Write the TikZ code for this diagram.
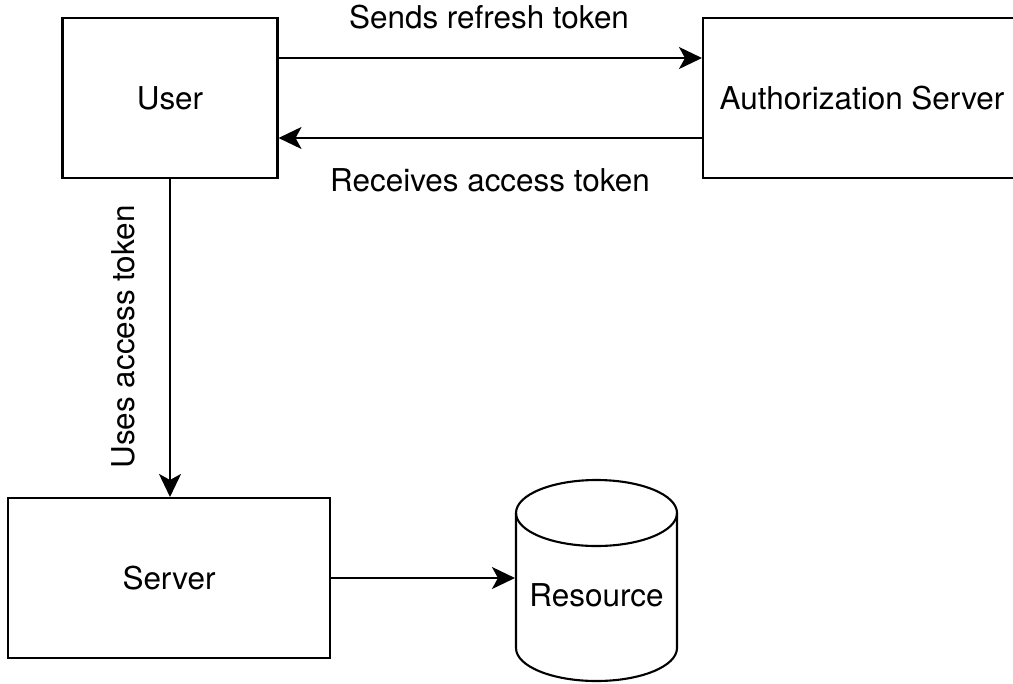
\documentclass[tikz,border=0pt]{standalone}
\usepackage{fontspec}
\setmainfont{TeX Gyre Heros}
\usetikzlibrary{arrows.meta}
\begin{document}
\begin{tikzpicture}[x = 0.02cm, y = -0.02cm, line width = 1.2pt,
    box/.style = {draw, rectangle, minimum width=#1, minimum height=3.2cm, inner sep=0pt},
    flow/.style = {-{Stealth[length=0.46cm, width=0.44cm, inset=0.12cm]}},
    font = \fontsize{17.9}{21}\selectfont]
    \useasboundingbox (0, 0) rectangle (1013, 683);
    \node (user) at (170, 98) [box=4.3cm]{User};
    \node (auth) at (862, 98) [box=6.36cm]{Authorization Server};
    \node (server) at (169, 578) [box=6.44cm]{Server};
    % cylinder
    \draw (516, 513) -- (516, 648) arc[start angle=180, end angle=0, x radius=80.5, y radius=33] -- (677, 513);
    \draw (596.5, 513) ellipse [x radius=80.5, y radius=33];
    \node (resource) at (596.5, 595) [minimum width=3.22cm, minimum height=2.4cm, inner sep=0pt]{Resource};
    \draw [flow] ([yshift=0.8cm]user.east) -- ([yshift=0.8cm]auth.west);
    \draw [flow] ([yshift=-0.8cm]auth.west) -- ([yshift=-0.8cm]user.east);
    \draw [flow] (user.south) -- (user.south |- server.north);
    \draw [flow] (server.east) -- (server.east -| resource.west);
    \node (sends) at (489, 17) {Sends refresh token};
    \node (receives) at (490, 180) {Receives access token};
    \node (uses) at (123, 337) [rotate=90]{Uses access token};
\end{tikzpicture}
\end{document}
